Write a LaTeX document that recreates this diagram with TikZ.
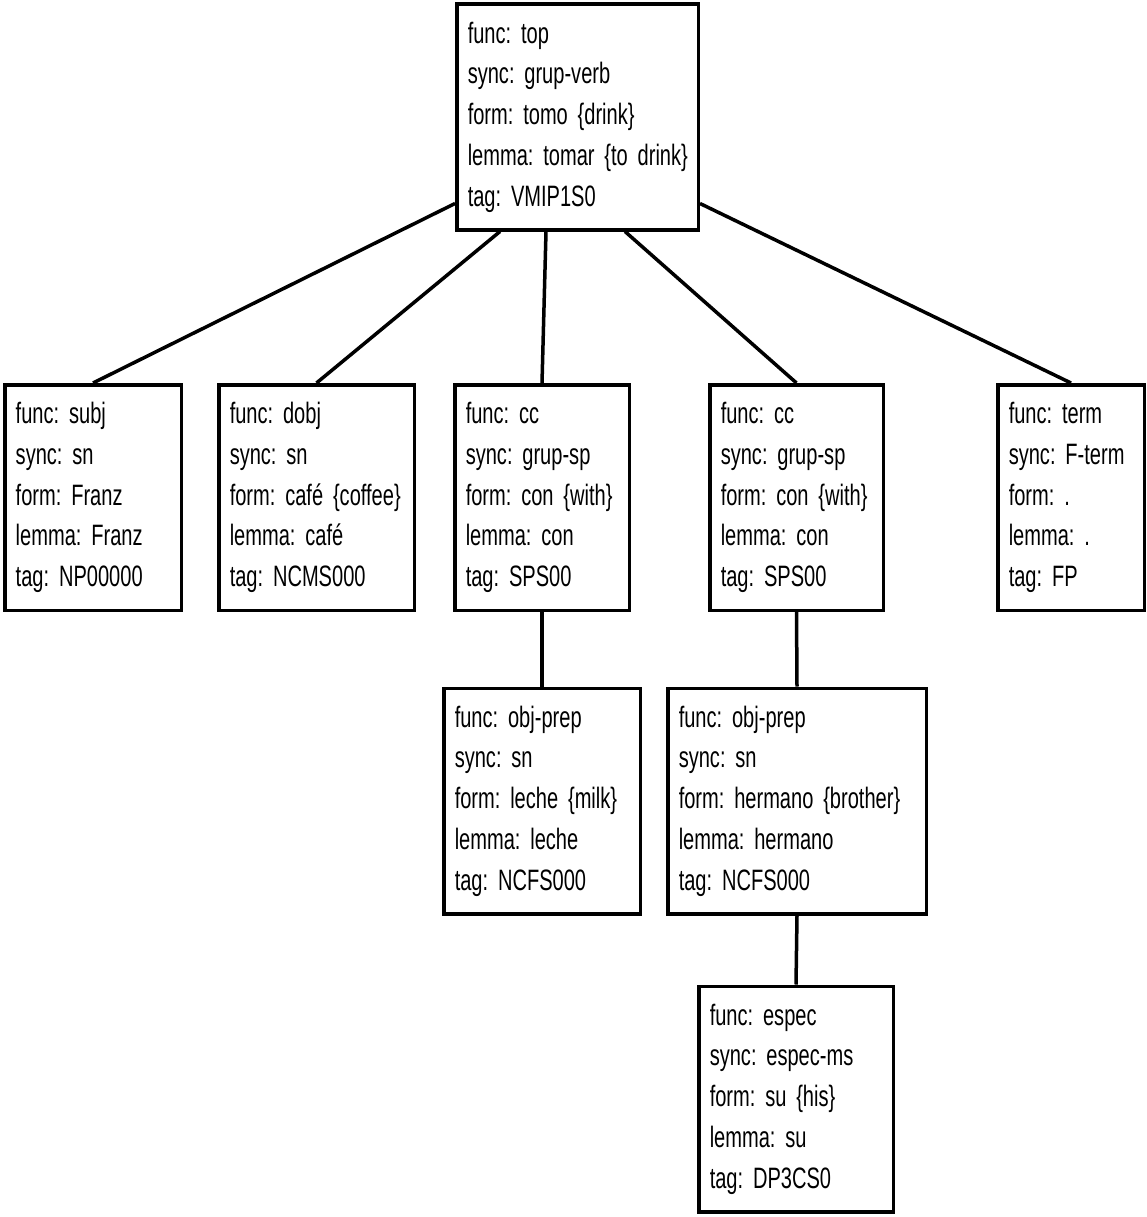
\documentclass[tikz,border=0pt]{standalone}
\usepackage{fontspec}
\setmainfont{Liberation Sans}[FakeStretch=0.68]
\frenchspacing
\hyphenpenalty=10000
\DeclareRobustCommand\featfont{\fontsize{29.5pt}{40.75pt}\selectfont}
\begin{document}
\begin{tikzpicture}[x=1pt, y=-1pt,
    featbox/.style={draw, rectangle, line width=3.5pt, inner xsep=11pt, inner ysep=0pt,
      minimum height=225.5pt, align=left, text width=#1, font=\featfont},
    link/.style={line width=3.5pt}]
    \useasboundingbox (0,0) rectangle (1147,1217);
    \node (top) at (577.5,117) [featbox=219.5pt]
      {func: top\\ sync: grup-verb\\ form: tomo \{drink\}\\ lemma:~tomar~\{to~drink\}\\ tag: VMIP1S0};
    \node (subj) at (93,497.5) [featbox=154.5pt]
      {func: subj\\ sync: sn\\ form: Franz\\ lemma: Franz\\ tag: NP00000};
    \node (dobj) at (316.5,497.5) [featbox=173.5pt]
      {func: dobj\\ sync: sn\\ form:~café~\{coffee\}\\ lemma: café\\ tag: NCMS000};
    \node (cca) at (542,497.5) [featbox=152.5pt]
      {func: cc\\ sync: grup-sp\\ form:~con~\{with\}\\ lemma: con\\ tag: SPS00};
    \node (ccb) at (796.5,497.5) [featbox=151.5pt]
      {func: cc\\ sync: grup-sp\\ form:~con~\{with\}\\ lemma: con\\ tag: SPS00};
    \node (term) at (1071,497.5) [featbox=124.5pt]
      {func: term\\ sync: F-term\\ form: .\\ lemma: .\\ tag: FP};
    \node (objpa) at (542,801) [featbox=174.5pt]
      {func: obj-prep\\ sync: sn\\ form:~leche~\{milk\}\\ lemma: leche\\ tag: NCFS000};
    \node (objpb) at (797,801) [featbox=236.5pt]
      {func: obj-prep\\ sync: sn\\ form:~hermano~\{brother\}\\ lemma: hermano\\ tag: NCFS000};
    \node (espec) at (796,1099) [featbox=172.5pt]
      {func: espec\\ sync: espec-ms\\ form: su \{his\}\\ lemma: su\\ tag: DP3CS0};
    \draw[link] ([yshift=28pt]top.south west) -- (subj.north);
    \draw[link] ([xshift=45pt]top.south west) -- (dobj.north);
    \draw[link] ([xshift=91pt]top.south west) -- (cca.north);
    \draw[link] ([xshift=170pt]top.south west) -- (ccb.north);
    \draw[link] ([yshift=28pt]top.south east) -- (term.north);
    \draw[link] (cca.south) -- (objpa.north);
    \draw[link] (ccb.south) -- (objpb.north);
    \draw[link] (objpb.south) -- (espec.north);
\end{tikzpicture}
\end{document}
